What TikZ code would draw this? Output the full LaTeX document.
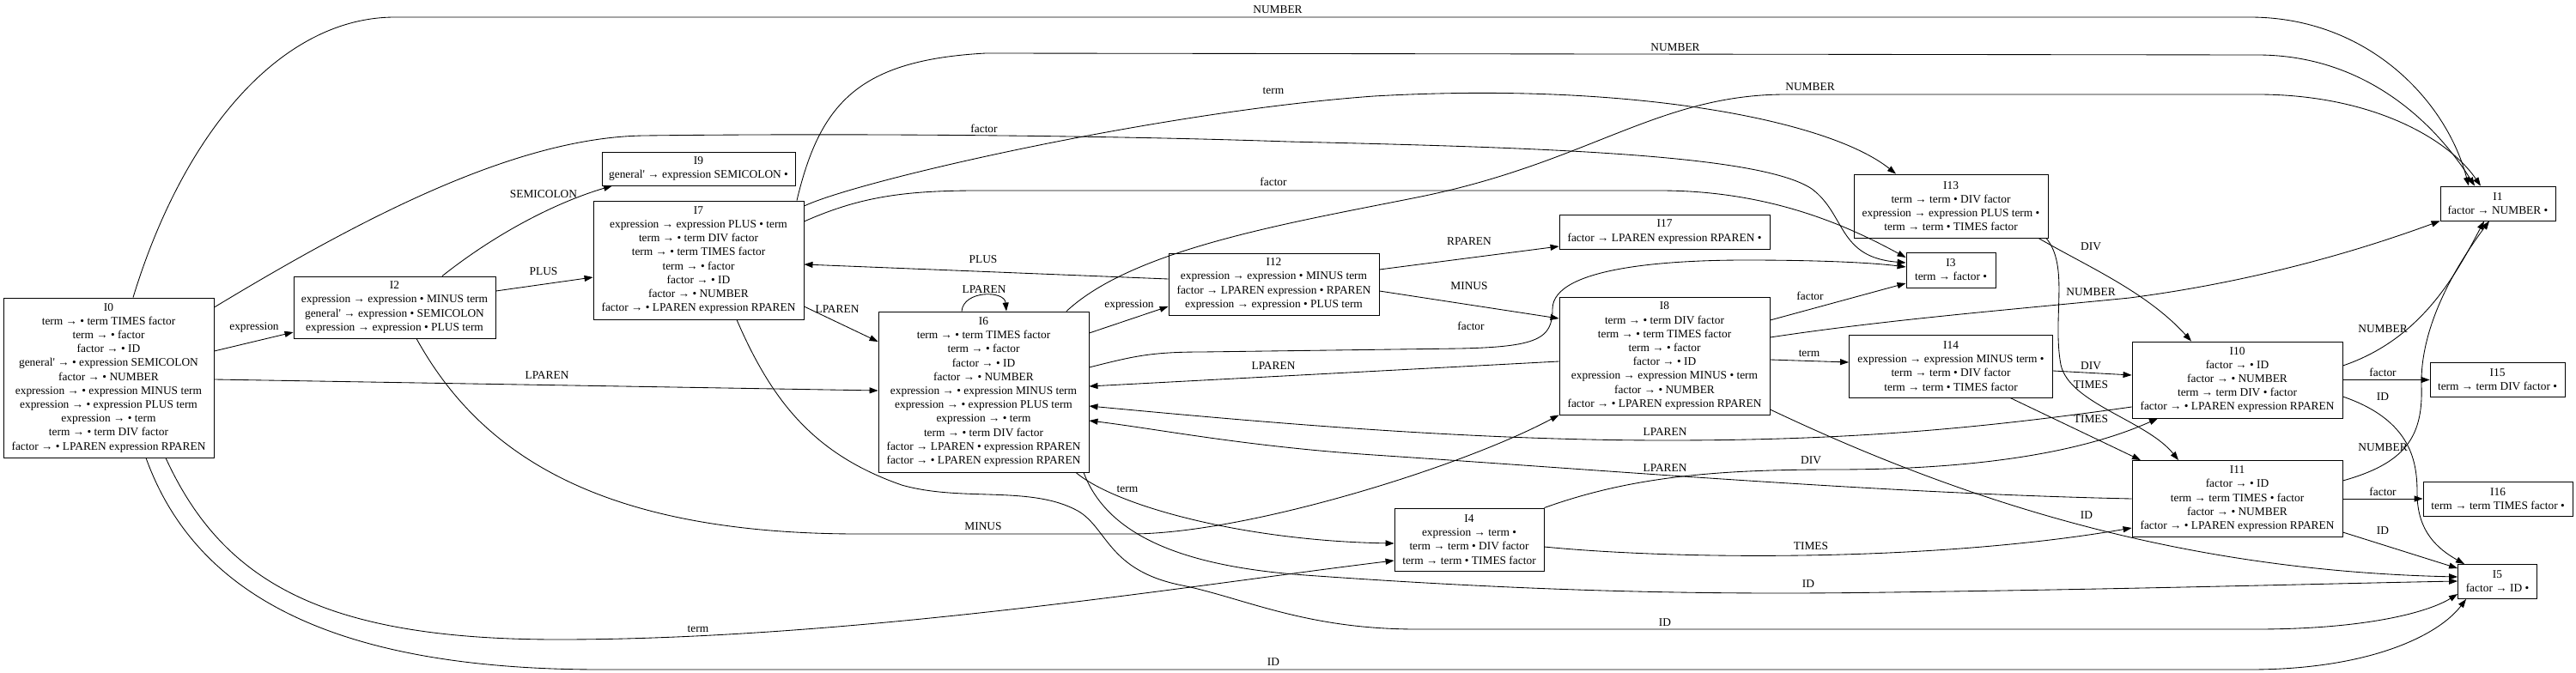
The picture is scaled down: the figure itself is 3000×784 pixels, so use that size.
\documentclass[tikz,border=0pt]{standalone}
\usepackage{fontspec}
\setmainfont{Liberation Serif}[Ligatures=TeXOff]
\usetikzlibrary{arrows.meta}
\begin{document}
\begin{tikzpicture}[x=1pt,y=-1pt,
  box/.style={draw, line width=0.9pt, rectangle, align=center, inner sep=0pt, font=\fontsize{13.4}{16.2}\selectfont},
  edge/.style={line width=0.85pt, -{Triangle[length=10pt,width=7pt]}},
  lbl/.style={font=\fontsize{13.4}{16.2}\selectfont, inner sep=0pt}]
\path[fill=white, use as bounding box] (0,0) rectangle (3000,784);

% ---------------- states ----------------
\node[box, minimum width=245pt, minimum height=186pt] (I0) at (126.5,440) {I0\\term → • term TIMES factor\\term → • factor\\factor → • ID\\general' → • expression SEMICOLON\\factor → • NUMBER\\expression → • expression MINUS term\\expression → • expression PLUS term\\expression → • term\\term → • term DIV factor\\factor → • LPAREN expression RPAREN};
\node[box, minimum width=235pt, minimum height=72pt] (I2) at (459.5,358) {I2\\expression → expression • MINUS term\\general' → expression • SEMICOLON\\expression → expression • PLUS term};
\node[box, minimum width=225pt, minimum height=39pt] (I9) at (813.5,196.5) {I9\\general' → expression SEMICOLON •};
\node[box, minimum width=245pt, minimum height=138pt] (I7) at (813.5,303) {I7\\expression → expression PLUS • term\\term → • term DIV factor\\term → • term TIMES factor\\term → • factor\\factor → • ID\\factor → • NUMBER\\factor → • LPAREN expression RPAREN};
\node[box, minimum width=245pt, minimum height=187pt] (I6) at (1145.5,456.5) {I6\\term → • term TIMES factor\\term → • factor\\factor → • ID\\factor → • NUMBER\\expression → • expression MINUS term\\expression → • expression PLUS term\\expression → • term\\term → • term DIV factor\\factor → LPAREN • expression RPAREN\\factor → • LPAREN expression RPAREN};
\node[box, minimum width=245pt, minimum height=72pt] (I12) at (1483.5,331) {I12\\expression → expression • MINUS term\\factor → LPAREN expression • RPAREN\\expression → expression • PLUS term};
\node[box, minimum width=174pt, minimum height=73pt] (I4) at (1711,628.5) {I4\\expression → term •\\term → term • DIV factor\\term → term • TIMES factor};
\node[box, minimum width=245pt, minimum height=40pt] (I17) at (1938.5,270) {I17\\factor → LPAREN expression RPAREN •};
\node[box, minimum width=245pt, minimum height=137pt] (I8) at (1938.5,414.5) {I8\\term → • term DIV factor\\term → • term TIMES factor\\term → • factor\\factor → • ID\\expression → expression MINUS • term\\factor → • NUMBER\\factor → • LPAREN expression RPAREN};
\node[box, minimum width=226pt, minimum height=74pt] (I13) at (2272,240) {I13\\term → term • DIV factor\\expression → expression PLUS term •\\term → term • TIMES factor};
\node[box, minimum width=104pt, minimum height=41pt] (I3) at (2272,314.5) {I3\\term → factor •};
\node[box, minimum width=237pt, minimum height=73pt] (I14) at (2272,426.5) {I14\\expression → expression MINUS term •\\term → term • DIV factor\\term → term • TIMES factor};
\node[box, minimum width=245pt, minimum height=89pt] (I10) at (2605.5,442.5) {I10\\factor → • ID\\factor → • NUMBER\\term → term DIV • factor\\factor → • LPAREN expression RPAREN};
\node[box, minimum width=245pt, minimum height=89pt] (I11) at (2605.5,581) {I11\\factor → • ID\\term → term TIMES • factor\\factor → • NUMBER\\factor → • LPAREN expression RPAREN};
\node[box, minimum width=134pt, minimum height=40pt] (I1) at (2909,237) {I1\\factor → NUMBER •};
\node[box, minimum width=157pt, minimum height=40pt] (I15) at (2908.5,442.5) {I15\\term → term DIV factor •};
\node[box, minimum width=174pt, minimum height=40pt] (I16) at (2909,581) {I16\\term → term TIMES factor •};
\node[box, minimum width=92pt, minimum height=40pt] (I5) at (2908.5,677.5) {I5\\factor → ID •};

% ---------------- edges from I0 ----------------
\draw[edge] (I0.east |- 0,409) -- (I2.west |- 0,387);
\draw[edge] (I0.east |- 0,442) -- (I6.west |- 0,455);
\draw[edge] (I0.north -| 155,0) .. controls (215,150) and (330,20) .. (460,20) -- (2620,20) .. controls (2760,20) and (2850,120) .. (I1.north -| 2875,0);
\draw[edge] (I0.east |- 0,358) .. controls (420,255) and (600,160) .. (750,158) .. controls (1000,155) and (1300,158) .. (1500,165) .. controls (1800,172) and (2050,180) .. (2110,220) .. controls (2150,250) and (2140,300) .. (I3.west |- 0,306);
\draw[edge] (I0.south -| 193,0) .. controls (260,680) and (380,745) .. (650,745) .. controls (1000,745) and (1400,680) .. (I4.west |- 0,653);
\draw[edge] (I0.south -| 170,0) .. controls (230,700) and (400,780) .. (700,780) -- (2620,780) .. controls (2760,780) and (2840,740) .. (I5.south -| 2872,0);

% ---------------- edges from I2 ----------------
\draw[edge] (I2.north -| 515,0) .. controls (580,270) and (650,235) .. (I9.south -| 713,0);
\draw[edge] (I2.east |- 0,339) -- (I7.west |- 0,323);
\draw[edge] (I2.south -| 485,0) .. controls (560,530) and (700,622) .. (1000,622) -- (1317,622) .. controls (1450,622) and (1700,545) .. (I8.south west);

% ---------------- edges from I4 ----------------
\draw[edge] (I4.north east) .. controls (1900,555) and (2000,547) .. (2136,547) .. controls (2330,547) and (2440,520) .. (I10.south -| 2513,0);
\draw[edge] (I4.east |- 0,637) .. controls (1950,652) and (2250,655) .. (I11.west |- 0,615);

% ---------------- edges from I6 ----------------
\draw[edge] (I6.east |- 0,388) -- (I12.west |- 0,357);
\draw[edge] (I6.south -| 1253,0) .. controls (1300,590) and (1450,630) .. (I4.west |- 0,633);
\draw[edge] (I6.east |- 0,428) .. controls (1320,415) and (1340,410) .. (1400,410) -- (1700,406) .. controls (1790,404) and (1808,395) .. (1808,360) .. controls (1808,310) and (1950,303) .. (2033,303) .. controls (2120,303) and (2180,306) .. (I3.west |- 0,311);
\draw[edge] (I6.north -| 1242,0) .. controls (1320,290) and (1500,260) .. (1650,230) .. controls (1850,190) and (1930,110) .. (2080,110) -- (2629,110) .. controls (2760,110) and (2850,160) .. (I1.north -| 2889,0);
\draw[edge] (I6.north -| 1120,0) .. controls (1122,338) and (1170,338) .. (I6.north -| 1172,0);
\draw[edge] (I6.south -| 1262,0) .. controls (1290,625) and (1380,660) .. (1520,670) .. controls (1800,690) and (2000,693) .. (2200,690) .. controls (2500,686) and (2700,680) .. (I5.west |- 0,677);

% ---------------- edges from I7 ----------------
\draw[edge] (I7.east |- 0,357) -- (I6.west |- 0,398);
\draw[edge] (I7.east |- 0,240) .. controls (1000,210) and (1350,130) .. (1600,112) .. controls (1900,95) and (2130,140) .. (I13.north -| 2208,0);
\draw[edge] (I7.north -| 928,0) .. controls (955,120) and (1000,70) .. (1148,62) -- (2629,64) .. controls (2760,64) and (2840,150) .. (I1.north -| 2882,0);
\draw[edge] (I7.east |- 0,258) .. controls (1000,230) and (1050,222) .. (1139,222) -- (1933,222) .. controls (2060,222) and (2150,262) .. (I3.west |- 0,300);
\draw[edge] (I7.south -| 858,0) .. controls (900,470) and (950,530) .. (1050,565) .. controls (1120,585) and (1200,565) .. (1255,595) .. controls (1290,615) and (1290,665) .. (1377,682) .. controls (1450,697) and (1520,733) .. (1650,733) -- (2627,733) .. controls (2760,733) and (2830,712) .. (I5.west |- 0,692);

% ---------------- edges from I8 ----------------
\draw[edge] (I8.east |- 0,419) -- (I14.west |- 0,422);
\draw[edge] (I8.east |- 0,373) -- (I3.west |- 0,330);
\draw[edge] (I8.east |- 0,393) .. controls (2200,372) and (2350,360) .. (2480,347) .. controls (2650,325) and (2780,280) .. (I1.south west);
\draw[edge] (I8.west |- 0,421) -- (I6.east |- 0,450);
\draw[edge] (I8.east |- 0,477) .. controls (2300,590) and (2550,665) .. (I5.west |- 0,672);

% ---------------- edges from I10 ----------------
\draw[edge] (I10.east) -- (I15.west);
\draw[edge] (I10.east |- 0,426) .. controls (2820,395) and (2860,320) .. (I1.south -| 2893,0);
\draw[edge] (I10.east |- 0,462) .. controls (2810,490) and (2815,540) .. (2815,575) .. controls (2815,620) and (2840,640) .. (I5.north -| 2870,0);
\draw[edge] (I10.west |- 0,474) .. controls (2300,500) and (2150,513) .. (1940,513) .. controls (1700,513) and (1450,490) .. (I6.east |- 0,473);

% ---------------- edges from I11 ----------------
\draw[edge] (I11.east) -- (I16.west);
\draw[edge] (I11.east |- 0,560) .. controls (2800,540) and (2822,510) .. (2820,450) .. controls (2818,380) and (2860,310) .. (I1.south -| 2899,0);
\draw[edge] (I11.east |- 0,620) -- (I5.west |- 0,662);
\draw[edge] (I11.west |- 0,581) .. controls (2200,575) and (1900,550) .. (1600,530) .. controls (1450,520) and (1350,500) .. (I6.east |- 0,490);

% ---------------- edges from I12 ----------------
\draw[edge] (I12.east |- 0,314) -- (I17.west |- 0,287);
\draw[edge] (I12.west |- 0,325) -- (I7.east |- 0,308);
\draw[edge] (I12.east |- 0,339) -- (I8.west |- 0,371);

% ---------------- edges from I13 / I14 ----------------
\draw[edge] (I13.south -| 2374,0) .. controls (2430,310) and (2500,340) .. (I10.north -| 2552,0);
\draw[edge] (I13.south -| 2383,0) .. controls (2410,310) and (2390,370) .. (2400,425) .. controls (2410,470) and (2500,490) .. (I11.north -| 2537,0);
\draw[edge] (I14.east |- 0,432) -- (I10.west |- 0,437);
\draw[edge] (I14.south -| 2341,0) -- (I11.north -| 2493,0);

% ---------------- labels ----------------
\node[lbl] (l1) at (296,381) {expression};
\node[lbl] (l2) at (637,437) {LPAREN};
\node[lbl] (l3) at (1488,11) {NUMBER};
\node[lbl] (l4) at (1146,150) {factor};
\node[lbl] (l5) at (813,733) {term};
\node[lbl] (l6) at (1483,771) {ID};
\node[lbl] (l7) at (633,226) {SEMICOLON};
\node[lbl] (l8) at (633,316) {PLUS};
\node[lbl] (l9) at (1145,613) {MINUS};
\node[lbl] (l10) at (2109,536) {DIV};
\node[lbl] (l11) at (2109,636) {TIMES};
\node[lbl] (l12) at (1315,355) {expression};
\node[lbl] (l13) at (1313,570) {term};
\node[lbl] (l14) at (1713,380) {factor};
\node[lbl] (l15) at (2108,101) {NUMBER};
\node[lbl] (l16) at (1146,337) {LPAREN};
\node[lbl] (l17) at (2106,680) {ID};
\node[lbl] (l18) at (975,360) {LPAREN};
\node[lbl] (l19) at (1483,106) {term};
\node[lbl] (l20) at (1951,55) {NUMBER};
\node[lbl] (l21) at (1483,212) {factor};
\node[lbl] (l22) at (1939,725) {ID};
\node[lbl] (l23) at (2107,412) {term};
\node[lbl] (l24) at (2108,345) {factor};
\node[lbl] (l25) at (2435,340) {NUMBER};
\node[lbl] (l26) at (1483,426) {LPAREN};
\node[lbl] (l27) at (2430,600) {ID};
\node[lbl] (l28) at (2775,434) {factor};
\node[lbl] (l29) at (2775,383) {NUMBER};
\node[lbl] (l30) at (2775,462) {ID};
\node[lbl] (l31) at (1939,503) {LPAREN};
\node[lbl] (l32) at (2775,573) {factor};
\node[lbl] (l33) at (2775,521) {NUMBER};
\node[lbl] (l34) at (2775,618) {ID};
\node[lbl] (l35) at (1939,545) {LPAREN};
\node[lbl] (l36) at (1711,281) {RPAREN};
\node[lbl] (l37) at (1145,302) {PLUS};
\node[lbl] (l38) at (1711,333) {MINUS};
\node[lbl] (l39) at (2435,287) {DIV};
\node[lbl] (l40) at (2435,448) {TIMES};
\node[lbl] (l41) at (2435,426) {DIV};
\node[lbl] (l42) at (2435,488) {TIMES};
\end{tikzpicture}
\end{document}
